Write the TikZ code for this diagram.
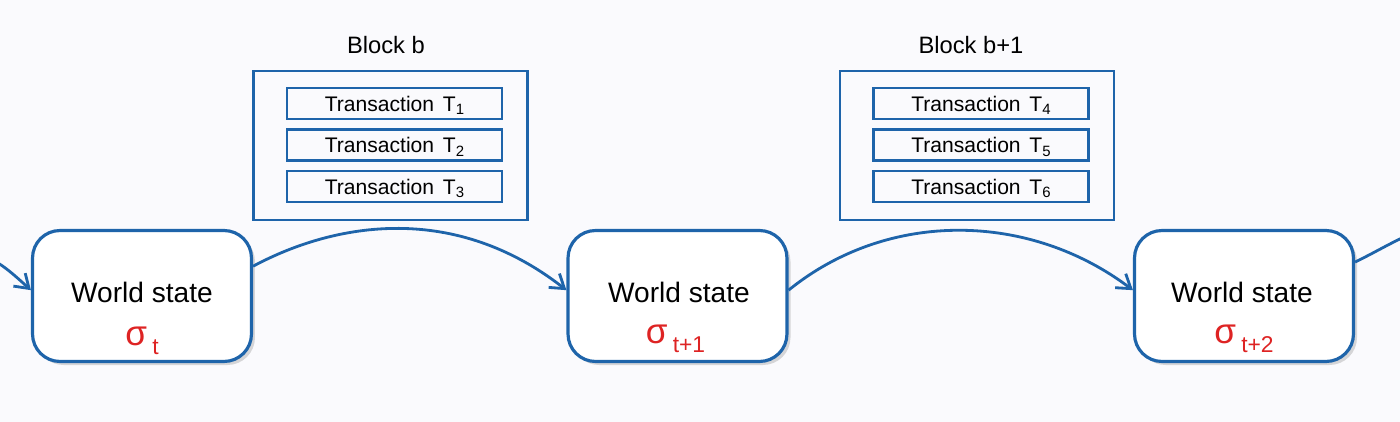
\documentclass[tikz,border=0pt]{standalone}
\usepackage{fontspec}
\setmainfont{Liberation Sans}
\usetikzlibrary{arrows.meta,shadows}
\definecolor{chainblue}{RGB}{30,100,170}
\definecolor{sigred}{RGB}{222,35,35}
\definecolor{paper}{RGB}{250,250,253}
\newcommand{\sig}[1]{{\color{sigred}\fontsize{20}{20}\selectfont σ\hspace{3pt}\raisebox{-5.5pt}{\fontsize{13}{13}\selectfont #1}}}
\newcommand{\tn}[1]{Transaction\hspace{5pt}T\raisebox{-2pt}{\fontsize{8.5}{8.5}\selectfont #1}}
\tikzset{
	state/.style={draw=chainblue,line width=1.8pt,fill=white,rounded corners=0.55cm,minimum width=4.38cm,minimum height=2.62cm,drop shadow={shadow xshift=2pt,shadow yshift=-2pt,opacity=0.3}},
	blk/.style={draw=chainblue,line width=1.6pt,minimum width=5.48cm,minimum height=2.98cm},
	tx/.style={draw=chainblue,line width=1.6pt,minimum width=4.3cm,minimum height=0.62cm,inner sep=0pt,font=\fontsize{12}{12}\selectfont,text height=8.6pt,text depth=0pt},
	blabel/.style={anchor=base,font=\fontsize{13.5}{13.5}\selectfont},
	wtext/.style={anchor=base,font=\fontsize{16}{16}\selectfont},
	flow/.style={chainblue,line width=1.6pt,-{Straight Barb[length=7.5pt,width=10pt]}}
}
\begin{document}
\begin{tikzpicture}[x=0.02cm,y=-0.02cm]
	\fill[paper] (0,0) rectangle (1400,422);
	\useasboundingbox (0,0) rectangle (1400,422);

	% blocks
	\node [blk] (b1) at (390.5,145.5) {};
	\node [blk] (b2) at (977,145.5) {};
	\node [blabel] (lb1) at (386,54) {Block b};
	\node [blabel] (lb2) at (971,54) {Block b+1};

	\node [tx] (t1) at (394.5,103.5) {\tn{1}};
	\node [tx] (t2) at (394.5,145) {\tn{2}};
	\node [tx] (t3) at (394.5,186.5) {\tn{3}};
	\node [tx] (t4) at (981,103.5) {\tn{4}};
	\node [tx] (t5) at (981,145) {\tn{5}};
	\node [tx] (t6) at (981,186.5) {\tn{6}};

	% world states
	\node [state] (s1) at (142,296) {};
	\node [state] (s2) at (677.5,296) {};
	\node [state] (s3) at (1244,296) {};

	\node [wtext] (w1) at (142,302) {World state};
	\node [wtext] (w2) at (679,302) {World state};
	\node [wtext] (w3) at (1242,302) {World state};
	\node [wtext] (g1) at (142,345) {\sig{t}};
	\node [wtext] (g2) at (675.5,343) {\sig{t+1}};
	\node [wtext] (g3) at (1244,343) {\sig{t+2}};

	\coordinate (prev) at (-40,250);
	\coordinate (next) at (1430,228);

	\draw[flow] (prev) .. controls +(30,2) and +(-22,-20) .. (s1.177);
	\draw[flow] (s1.15) .. controls +(84,-45) and +(-111,-87) .. (s2.177);
	\draw[flow] (s2.3) .. controls +(100,-81) and +(-103,-78) .. (s3.177);
	\draw[flow] (s3.17) .. controls +(25,-12) and +(-25,6) .. (next);
\end{tikzpicture}
\end{document}
